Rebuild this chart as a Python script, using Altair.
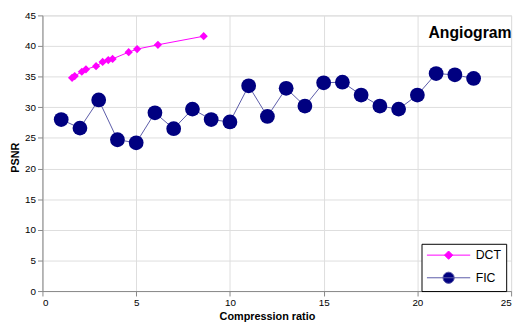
import altair as alt
import pandas as pd

dct_ratio = [1.58, 1.72, 2.1, 2.32, 2.86, 3.21, 3.51, 3.74, 4.6, 5.05, 6.16, 8.6]
dct_psnr = [34.8, 35.1, 35.8, 36.2, 36.7, 37.4, 37.7, 37.9, 39.0, 39.5, 40.2, 41.6]
fic_ratio = list(range(1, 24))
fic_psnr = [28.0, 26.6, 31.2, 24.7, 24.2, 29.1, 26.5, 29.7, 28.0, 27.6, 33.5, 28.5,
            33.1, 30.2, 34.0, 34.1, 32.0, 30.2, 29.7, 32.0, 35.5, 35.3, 34.7]
series_names = ["DCT", "FIC"]
x_ticks = [0, 5, 10, 15, 20, 25]
y_ticks = [0, 5, 10, 15, 20, 25, 30, 35, 40, 45]

dct = pd.DataFrame({"ratio": dct_ratio, "psnr": dct_psnr, "series": "DCT"})
fic = pd.DataFrame({"ratio": fic_ratio, "psnr": fic_psnr, "series": "FIC"})
legend_df = pd.DataFrame({"series": series_names, "ratio": [0, 0], "psnr": [0, 0]})

FONT = "Liberation Sans"

xs = alt.X("ratio:Q", scale=alt.Scale(domain=[0, 25], nice=False),
           axis=alt.Axis(values=x_ticks, title="Compression ratio", titleX=228, titleY=26,
                         titleBaseline="middle"))
ys = alt.Y("psnr:Q", scale=alt.Scale(domain=[0, 45], nice=False),
           axis=alt.Axis(values=y_ticks, title="PSNR", titleX=-27, titleY=144,
                         titleBaseline="middle", titleAlign="center"))

fic_line = alt.Chart(fic).mark_line(color="#5a5aa8", strokeWidth=1).encode(x=xs, y=ys)
fic_pts = alt.Chart(fic).mark_point(filled=True, shape="circle", size=225, color="#000080",
                                    opacity=1).encode(x=xs, y=ys)
dct_line = alt.Chart(dct).mark_line(color="#ff00ff", strokeWidth=1).encode(x=xs, y=ys)
dct_pts = alt.Chart(dct).mark_point(filled=True, shape="diamond", size=70, color="#ff00ff",
                                    opacity=1).encode(x=xs, y=ys)

# symbol size 144 -> unit = 6px; line spans 44px to the right of the column start
legend_symbols = [
    "M-1,0H6.33M2.67,-0.7L3.37,0L2.67,0.7L1.97,0Z",
    "M-1,0H6.33M1.72,0A0.95,0.95 0 1,0 3.62,0A0.95,0.95 0 1,0 1.72,0Z",
]
leg = alt.Legend(
    title=None, orient="none", legendX=385, legendY=232,
    strokeColor="black", fillColor="white", padding=5,
    symbolSize=144, labelFontSize=12.5, labelFont=FONT, labelColor="black",
    labelOffset=37, rowPadding=8, symbolStrokeWidth=1, symbolOpacity=1,
)
legend_layer = alt.Chart(legend_df).mark_point(filled=True, strokeWidth=1, opacity=1).encode(
    fill=alt.Fill("series:N", scale=alt.Scale(domain=series_names, range=["#ff00ff", "#000080"]),
                  legend=leg),
    stroke=alt.Stroke("series:N", scale=alt.Scale(domain=series_names, range=["#ff00ff", "#5a5aa8"]),
                      legend=leg),
    shape=alt.Shape("series:N", scale=alt.Scale(domain=series_names, range=legend_symbols),
                    legend=leg),
).transform_filter("false")

chart = alt.layer(fic_line, fic_pts, dct_line, dct_pts, legend_layer).properties(
    width=476, height=280,
    autosize=alt.AutoSizeParams(type="none"),
    padding={"left": 35, "top": 5, "right": 7, "bottom": 34},
    title=alt.TitleParams("Angiogram", anchor="end", fontSize=16, font=FONT, fontWeight="bold",
                          color="black", baseline="alphabetic", offset=0, dy=44, dx=0),
).configure_view(
    stroke="black", strokeWidth=1
).configure_axis(
    grid=False, domainColor="black", tickColor="black", labelColor="black",
    labelFont=FONT, labelFontSize=8.5, tickSize=4, labelPadding=4,
    titleFont=FONT, titleFontSize=9, titleFontWeight="bold", titleColor="black",
).configure(background="white")

chart.save("out.html", embed_options={"renderer": "svg", "actions": False})
